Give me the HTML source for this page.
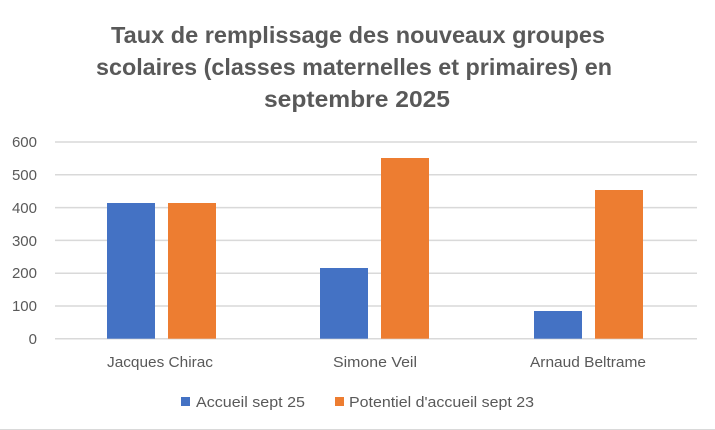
<!DOCTYPE html>
<html><head><meta charset="utf-8"><style>
html,body{margin:0;padding:0;background:#fff;}
svg{display:block;font-family:"Liberation Sans",sans-serif;}
</style></head><body>
<svg width="715" height="430" viewBox="0 0 715 430" xmlns="http://www.w3.org/2000/svg">
<rect x="0" y="0" width="715" height="430" fill="#fff"/>
<line x1="0" y1="429.5" x2="715" y2="429.5" stroke="#d9d9d9"/>
<g font-weight="bold" font-size="23" fill="#595959" text-anchor="middle">
<text x="358" y="43" textLength="494" lengthAdjust="spacingAndGlyphs">Taux de remplissage des nouveaux groupes</text>
<text x="354" y="75" textLength="516" lengthAdjust="spacingAndGlyphs">scolaires (classes maternelles et primaires) en</text>
<text x="357" y="107" textLength="186" lengthAdjust="spacingAndGlyphs">septembre 2025</text>
</g>
<g stroke="#d9d9d9" stroke-width="1.5">
<line x1="55" y1="142" x2="697" y2="142"/>
<line x1="55" y1="174.8" x2="697" y2="174.8"/>
<line x1="55" y1="207.6" x2="697" y2="207.6"/>
<line x1="55" y1="240.4" x2="697" y2="240.4"/>
<line x1="55" y1="273.2" x2="697" y2="273.2"/>
<line x1="55" y1="306" x2="697" y2="306"/>
<line x1="55" y1="338.7" x2="697" y2="338.7"/>
</g>
<g font-size="15" fill="#595959" text-anchor="end">
<text x="37" y="147">600</text>
<text x="37" y="180">500</text>
<text x="37" y="213">400</text>
<text x="37" y="246">300</text>
<text x="37" y="278">200</text>
<text x="37" y="311">100</text>
<text x="37" y="344">0</text>
</g>
<g fill="#4472c4">
<rect x="107" y="203" width="48" height="135.7"/>
<rect x="320" y="268" width="48" height="70.7"/>
<rect x="534" y="311" width="48" height="27.7"/>
</g>
<g fill="#ed7d31">
<rect x="168" y="203" width="48" height="135.7"/>
<rect x="381" y="158" width="48" height="180.7"/>
<rect x="595" y="190" width="48" height="148.7"/>
</g>
<g font-size="15" fill="#595959" text-anchor="middle">
<text x="160" y="367" textLength="106" lengthAdjust="spacingAndGlyphs">Jacques Chirac</text>
<text x="375" y="367" textLength="84" lengthAdjust="spacingAndGlyphs">Simone Veil</text>
<text x="588" y="367" textLength="116" lengthAdjust="spacingAndGlyphs">Arnaud Beltrame</text>
</g>
<rect x="181" y="397" width="9" height="9" fill="#4472c4"/>
<text x="196" y="407" font-size="15" fill="#595959" textLength="109" lengthAdjust="spacingAndGlyphs">Accueil sept 25</text>
<rect x="335" y="397" width="9" height="9" fill="#ed7d31"/>
<text x="349" y="407" font-size="15" fill="#595959" textLength="185" lengthAdjust="spacingAndGlyphs">Potentiel d'accueil sept 23</text>
</svg>
</body></html>
